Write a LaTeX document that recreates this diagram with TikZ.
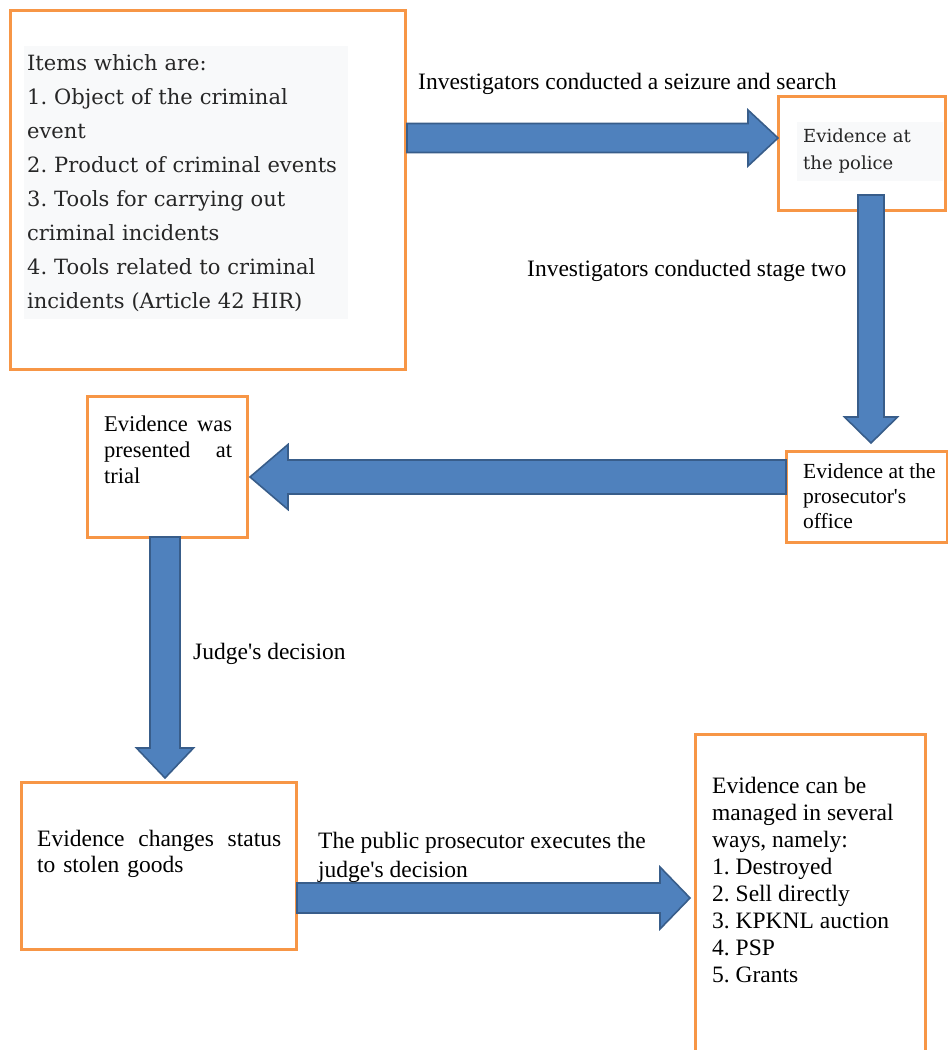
\documentclass[tikz,border=0pt]{standalone}
\usepackage{fontspec}
\setmainfont{Liberation Serif}[Ligatures=TeXOff]
\newfontfamily\slabfont{DejaVu Serif}[Ligatures=TeXOff]
\usetikzlibrary{calc}

\definecolor{boxorange}{HTML}{F79646}
\definecolor{arrowblue}{HTML}{4F81BD}
\definecolor{arrowedge}{HTML}{385D8A}
\definecolor{shadegray}{HTML}{F8F9FA}
\definecolor{inkgray}{HTML}{262626}

\tikzset{
  stagebox/.style={draw=boxorange, line width=3pt, outer sep=0pt, inner sep=0pt, anchor=north west},
  fatarrow/.style n args={3}{draw=arrowedge, fill=arrowblue, line width=1.6pt, line join=miter,
    to path={
      ($(\tikztostart)!#1!90:(\tikztotarget)$)
      -- ($(\tikztotarget)!#3!(\tikztostart)!#1!-90:(\tikztostart)$)
      -- ($(\tikztotarget)!#3!(\tikztostart)!#2!-90:(\tikztostart)$)
      -- (\tikztotarget)
      -- ($(\tikztotarget)!#3!(\tikztostart)!#2!90:(\tikztostart)$)
      -- ($(\tikztotarget)!#3!(\tikztostart)!#1!90:(\tikztostart)$)
      -- ($(\tikztostart)!#1!-90:(\tikztotarget)$)
      -- cycle}},
  steplabel/.style={inner sep=0pt, anchor=base west, font=\fontsize{23.5}{27}\selectfont},
  boxtext/.style={inner sep=0pt, anchor=north west, align=left},
  slabtext/.style={fill=shadegray, text=inkgray, anchor=north west, align=left}
}

\begin{document}
\frenchspacing
\begin{tikzpicture}[x=1pt, y=-1pt]
  \useasboundingbox (0,0) rectangle (948,1050);
  \clip (0,0) rectangle (948,1050);
  \fill[white] (0,0) rectangle (948,1050);

  % the stages
  \node[stagebox, minimum width=395pt, minimum height=359pt] (items) at (10,10) {};
  \node[stagebox, minimum width=167pt, minimum height=114pt] (police) at (778,96) {};
  \node[stagebox, minimum width=160pt, minimum height=141pt] (trial) at (87,396) {};
  \node[stagebox, minimum width=161pt, minimum height=91pt] (prosecutor) at (786,451) {};
  \node[stagebox, minimum width=275pt, minimum height=167pt] (stolen) at (21,782) {};
  \node[stagebox, minimum width=230pt, minimum height=330pt] (managed) at (695,734) {};

  % the steps between them
  \draw[fatarrow={14.5pt}{28pt}{30pt}] ([xshift=2pt,yshift=51.5pt]items.east) to ([yshift=15pt]police.west);
  \draw[fatarrow={13pt}{26.5pt}{26pt}] ([xshift=9.5pt,yshift=15pt]police.south) to ([xshift=4.5pt,yshift=8pt]prosecutor.north);
  \draw[fatarrow={17pt}{32.5pt}{38pt}] ([yshift=19.5pt]prosecutor.west) to ([xshift=3pt,yshift=-10.5pt]trial.east);
  \draw[fatarrow={15pt}{28.5pt}{30pt}] ([xshift=-2pt]trial.south) to ([xshift=6.5pt,yshift=4pt]stolen.north);
  \draw[fatarrow={15pt}{31pt}{30pt}] ([xshift=1pt,yshift=-32.5pt]stolen.east) to ([xshift=-5pt,yshift=1pt]managed.west);

  % texts in the stages
  \node[slabtext, inner xsep=3pt, inner ysep=8pt, text width=318pt,
        font=\slabfont\fontsize{21}{34}\selectfont] (itemstext) at (24,46)
    {Items which are:\\1. Object of the criminal\\event\\2. Product of criminal events\\3. Tools for carrying out\\criminal incidents\\4. Tools related to criminal\\incidents (Article 42 HIR)};
  \node[slabtext, inner xsep=6pt, inner ysep=7pt, text width=134pt,
        font=\slabfont\fontsize{18}{27}\selectfont] (policetext) at (797,122)
    {Evidence at\\the police};
  \node[boxtext, text width=128pt, font=\fontsize{22.5}{26}\selectfont] (trialtext) at (104,415.6)
    {Evidence\hfill was\\presented\hfill at\\trial};
  \node[boxtext, font=\fontsize{21.5}{25}\selectfont] (prosecutortext) at (803,463.3)
    {Evidence at the\\prosecutor's\\office};
  \node[boxtext, text width=244pt, font=\fontsize{23.5}{26}\selectfont] (stolentext) at (37,830)
    {Evidence\hfill changes\hfill status\\to stolen goods};
  \node[boxtext, font=\fontsize{23.5}{27}\selectfont] (managedtext) at (712,777)
    {Evidence can be\\managed in several\\ways, namely:\\1. Destroyed\\2. Sell directly\\3. KPKNL auction\\4. PSP\\5. Grants};

  % texts on the steps
  \node[steplabel] (seizure) at (418,89) {Investigators conducted a seizure and search};
  \node[steplabel] (stagetwo) at (527,276) {Investigators conducted stage two};
  \node[steplabel] (decision) at (193,659) {Judge's decision};
  \node[boxtext, font=\fontsize{23.5}{29}\selectfont] (executes) at (318,832)
    {The public prosecutor executes the\\judge's decision};
\end{tikzpicture}
\end{document}
